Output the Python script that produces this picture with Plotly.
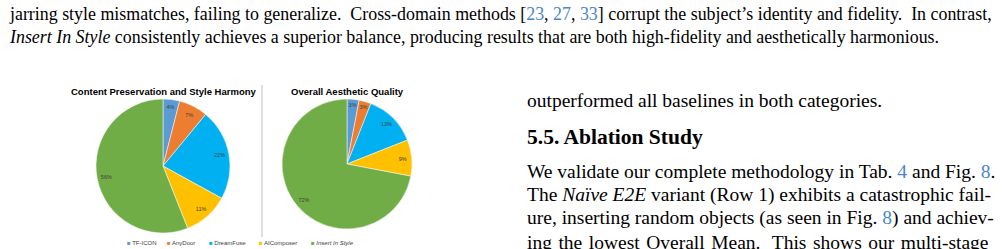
import plotly.graph_objects as go

# ---------------- data ----------------
methods = ["TF-ICON", "AnyDoor", "DreamFuse", "AIComposer", "Insert In Style"]
content_pct = [4, 7, 22, 11, 56]
aesthetic_pct = [3, 3, 13, 9, 72]
colors = ["#5B9BD5", "#ED7D31", "#00B0F0", "#FFC000", "#70AD47"]
titles = ["Content Preservation and Style Harmony", "Overall Aesthetic Quality"]

W, H = 1004, 249
def px(x): return x / W
def py(y): return 1 - y / H

BLUE = "#4A86C8"
SP2 = "\u00a0 "  # wider sentence spacing
def cite(t): return f'<span style="color:{BLUE}">{t}</span>'
def stretch(t): return t.replace(" ", " \u200a")

fig = go.Figure()

pie_domains = [
    dict(x=[px(96), px(230)], y=[py(233), py(99)]),
    dict(x=[px(282), px(412)], y=[py(229), py(99)]),
]
for vals, dom in zip([content_pct, aesthetic_pct], pie_domains):
    # coloured slices
    fig.add_trace(go.Pie(
        values=vals, labels=methods, sort=False, direction="clockwise",
        marker=dict(colors=colors, line=dict(color="white", width=0.5)),
        textinfo="none", domain=dom, showlegend=False, hoverinfo="skip",
    ))
    # transparent ring carrying the percentage labels near the rim
    fig.add_trace(go.Pie(
        values=vals, labels=methods, sort=False, direction="clockwise", hole=0.72,
        marker=dict(colors=["rgba(0,0,0,0)"] * len(vals), line=dict(width=0)),
        texttemplate="%{value}%", textposition="inside",
        insidetextorientation="horizontal",
        textfont=dict(size=5.5, color="#404040", family="Liberation Sans"),
        domain=dom, showlegend=False, hoverinfo="skip",
    ))

ann = []
# chart titles
for t, cx in zip(titles, [163, 347]):
    ann.append(dict(text=f"<b>{t}</b>", x=px(cx), y=py(92), xref="paper", yref="paper",
                    xanchor="center", yanchor="middle", showarrow=False,
                    font=dict(size=9.5, family="Liberation Sans", color="#000")))
# legend
leg_x = [127, 167, 209, 259, 311]
for name, c, lx in zip(methods, colors, leg_x):
    label = f"<i>{name}</i>" if name == "Insert In Style" else name
    ann.append(dict(text=f'<span style="color:{c}">■</span> {label}', x=px(lx - 2), y=py(243),
                    xref="paper", yref="paper", xanchor="left", yanchor="middle",
                    showarrow=False, font=dict(size=6, family="Liberation Sans", color="#404040")))

# body text
serif = "Liberation Serif"
lines = [
    ("jarring style mismatches, failing to generalize." + SP2 + "Cross-domain methods [" + cite("23") + ", " + cite("27") + ", " + cite("33") + "] corrupt the subject’s identity and fidelity." + SP2 + "In contrast,", 7, 14, 17.9),
    ("<i>Insert In Style</i> consistently achieves a superior balance, producing results that are both high-fidelity and aesthetically harmonious.", 7, 37, 17.9),
    ("outperformed all baselines in both categories.", 525, 101, 19.5),
    ("We validate our complete methodology in Tab. " + cite("4") + " and Fig. " + cite("8") + ".", 525, 171, 19.5),
    ("The <i>Naïve E2E</i> variant (Row 1) exhibits a catastrophic fail-", 525, 195, 19.5),
    ("ure, inserting random objects (as seen in Fig. " + cite("8") + ") and achiev-", 525, 218, 19.5),
    (stretch("ing the lowest Overall Mean." + SP2 + "This shows our multi-stage"), 525, 242, 19.5),
]
for t, x, y, fs in lines:
    ann.append(dict(text=t, x=px(x), y=py(y), xref="paper", yref="paper",
                    xanchor="left", yanchor="middle", showarrow=False,
                    font=dict(size=fs, family=serif, color="#000")))
ann.append(dict(text="<b>5.5. Ablation Study</b>", x=px(525), y=py(137), xref="paper", yref="paper",
                xanchor="left", yanchor="middle", showarrow=False,
                font=dict(size=21.5, family=serif, color="#000")))

fig.update_layout(
    width=W, height=H, margin=dict(l=0, r=0, t=0, b=0),
    paper_bgcolor="white", plot_bgcolor="white",
    annotations=ann,
    shapes=[dict(type="line", xref="paper", yref="paper", x0=px(262), x1=px(262),
                 y0=py(237), y1=py(85), line=dict(color="#BFBFBF", width=1))],
)
fig.write_html("out.html")
